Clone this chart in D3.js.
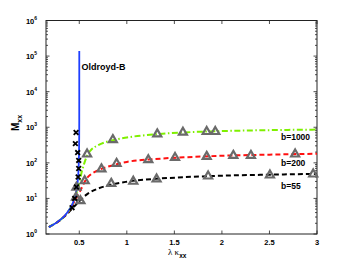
<!DOCTYPE html>
<html>
<head>
<meta charset="utf-8">
<script src="https://cdn.jsdelivr.net/npm/d3@7"></script>
<style>
  body { margin: 0; background: #fff; }
  svg { display: block; font-family: "Liberation Sans", Arial, sans-serif; }
</style>
</head>
<body>
<svg id="chart" width="350" height="264"></svg>
<script>
// data
var oldroydX = [0.18, 0.22, 0.26, 0.3, 0.34, 0.38, 0.41, 0.43, 0.45, 0.46, 0.47, 0.48, 0.485, 0.49, 0.494, 0.497, 0.499, 0.4997, 0.49995, 0.5];
var oldroydY = [1.56, 1.8, 2.08, 2.5, 3.1, 4.2, 5.6, 7.1, 10, 12.5, 16.7, 25, 33, 50, 83, 170, 500, 1700, 10000, 140000];

var fx = [0.18, 0.25, 0.3, 0.35, 0.4, 0.43, 0.45, 0.48, 0.5, 0.52, 0.55, 0.58, 0.62, 0.7, 0.85, 1.0, 1.3, 1.6, 2.0, 2.5, 3.0];
var b1000 = [1.56, 2, 2.5, 3.3, 5, 7, 9.5, 17, 27, 48, 92, 155, 225, 315, 430, 515, 635, 715, 780, 830, 860];
var b200 = [1.56, 2, 2.5, 3.3, 4.9, 6.6, 8.4, 11.5, 14.5, 18.5, 27, 37, 47, 62, 85, 106, 128, 143, 158, 170, 180];
var b55 = [1.56, 2, 2.45, 3.2, 4.4, 5.4, 6.1, 7.3, 8.3, 9.3, 11.2, 13, 15.2, 19, 25, 29.5, 35.5, 39.5, 43.5, 46.5, 49];

var crossX = [0.466, 0.459, 0.483, 0.494, 0.494, 0.488, 0.47, 0.452, 0.424];
var crossY = [710, 347, 194, 117, 69, 40, 21, 10, 5.5];

var triX1000 = [0.47, 0.582, 0.853, 1.32, 1.59, 1.84, 1.93];
var triY1000 = [21, 181, 460, 665, 740, 775, 775];
var triX200 = [0.466, 0.557, 0.733, 0.892, 1.226, 1.507, 1.84, 2.12, 2.305, 2.77];
var triY200 = [11, 32, 69, 99, 125, 145, 155, 166, 166, 181];
var triX55 = [0.512, 0.836, 1.068, 1.313, 1.855, 2.505, 2.96];
var triY55 = [8.8, 27, 31, 36, 43.6, 46.5, 49.6];

var xTicks = [0.5, 1, 1.5, 2, 2.5, 3];
var yExps = [0, 1, 2, 3, 4, 5, 6];
var curveLabels = ["b=1000", "b=200", "b=55"];

var svg = d3.select("#chart");
var plotL = 46, plotR = 317, plotT = 20.5, plotB = 234;

var x = d3.scaleLinear().domain([0.15, 3]).range([plotL, plotR]);
var y = d3.scaleLog().domain([1, 1e6]).range([plotB, plotT]);

// frame
svg.append("rect")
  .attr("x", plotL).attr("y", plotT)
  .attr("width", plotR - plotL).attr("height", plotB - plotT)
  .attr("fill", "#fff").attr("stroke", "#222").attr("stroke-width", 1);

// ticks
var tk = svg.append("g").attr("stroke", "#222").attr("stroke-width", 0.8);
xTicks.forEach(function (t) {
  tk.append("line").attr("x1", x(t)).attr("x2", x(t)).attr("y1", plotB).attr("y2", plotB - 3.5);
  tk.append("line").attr("x1", x(t)).attr("x2", x(t)).attr("y1", plotT).attr("y2", plotT + 3.5);
});
yExps.forEach(function (e) {
  var v = Math.pow(10, e);
  tk.append("line").attr("x1", plotL).attr("x2", plotL + 3.5).attr("y1", y(v)).attr("y2", y(v));
  tk.append("line").attr("x1", plotR).attr("x2", plotR - 3.5).attr("y1", y(v)).attr("y2", y(v));
  if (e < 6) {
    for (var m = 2; m < 10; m++) {
      tk.append("line").attr("x1", plotL).attr("x2", plotL + 2).attr("y1", y(m * v)).attr("y2", y(m * v));
      tk.append("line").attr("x1", plotR).attr("x2", plotR - 2).attr("y1", y(m * v)).attr("y2", y(m * v));
    }
  }
});

// tick labels
svg.selectAll(".xt").data(xTicks).enter().append("text")
  .attr("x", function (d) { return x(d); }).attr("y", 244.5)
  .attr("text-anchor", "middle").attr("font-size", 7.5).attr("font-weight", "bold")
  .text(function (d) { return d; });

var yt = svg.selectAll(".yt").data(yExps).enter().append("text")
  .attr("x", 37).attr("y", function (d) { return y(Math.pow(10, d)) + 3; })
  .attr("font-size", 7.5).attr("font-weight", "bold").attr("text-anchor", "end");
yt.append("tspan").text("10");
yt.append("tspan").attr("dy", -4).attr("font-size", 5).text(function (d) { return d; });

// axis labels
var xl = svg.append("text").attr("x", 168).attr("y", 255).attr("font-size", 9)
  .attr("font-family", "'Liberation Serif', serif");
xl.append("tspan").text("λ κ");
xl.append("tspan").attr("dy", 2.5).attr("font-size", 6.5).attr("font-weight", "bold")
  .attr("font-family", "'Liberation Sans', Arial, sans-serif").text("xx");

var yl = svg.append("text").attr("transform", "translate(19,131) rotate(-90)")
  .attr("font-size", 10).attr("font-weight", "bold");
yl.append("tspan").text("M");
yl.append("tspan").attr("dy", 2.5).attr("font-size", 7).text("xx");

// curves
var line = d3.line().x(function (d) { return x(d[0]); }).y(function (d) { return y(d[1]); })
  .curve(d3.curveMonotoneX);
var zip = function (a, b) { return a.map(function (v, i) { return [v, b[i]]; }); };

var series = [
  { ys: b55, color: "#000", dash: "5,3" },
  { ys: b200, color: "#ff1010", dash: "5,3" },
  { ys: b1000, color: "#7ff000", dash: "6,2.5,1.5,2.5" }
];
series.forEach(function (s) {
  svg.append("path").datum(zip(fx, s.ys)).attr("d", line)
    .attr("fill", "none").attr("stroke", s.color).attr("stroke-width", 2)
    .attr("stroke-dasharray", s.dash);
});

svg.append("path").datum(zip(oldroydX, oldroydY))
  .attr("d", d3.line().x(function (d) { return x(d[0]); }).y(function (d) { return y(d[1]); }))
  .attr("fill", "none").attr("stroke", "#1f3fff").attr("stroke-width", 1.8);

// triangles
var tri = d3.symbol().type(d3.symbolTriangle).size(28);
[zip(triX1000, triY1000), zip(triX200, triY200), zip(triX55, triY55)].forEach(function (pts) {
  svg.append("g").selectAll("path").data(pts).enter().append("path")
    .attr("d", tri)
    .attr("transform", function (d) { return "translate(" + x(d[0]) + "," + (y(d[1]) + 0.5) + ")"; })
    .attr("fill", "none").attr("stroke", "#6a6a6a").attr("stroke-width", 2.2);
});

// crosses
var cross = d3.symbol().type(d3.symbolX).size(16);
svg.append("g").selectAll("path").data(zip(crossX, crossY)).enter().append("path")
  .attr("d", cross)
  .attr("transform", function (d) { return "translate(" + x(d[0]) + "," + y(d[1]) + ")"; })
  .attr("fill", "none").attr("stroke", "#000").attr("stroke-width", 1.8);

// labels
svg.append("text").attr("x", 81.5).attr("y", 69.5).attr("font-size", 9).attr("font-weight", "bold")
  .text("Oldroyd-B");
svg.selectAll(".bl").data(curveLabels).enter().append("text")
  .attr("x", 281).attr("y", function (d, i) { return [140, 166, 189][i]; })
  .attr("font-size", 8.5).attr("font-weight", "bold")
  .text(function (d) { return d; });
</script>
</body>
</html>
